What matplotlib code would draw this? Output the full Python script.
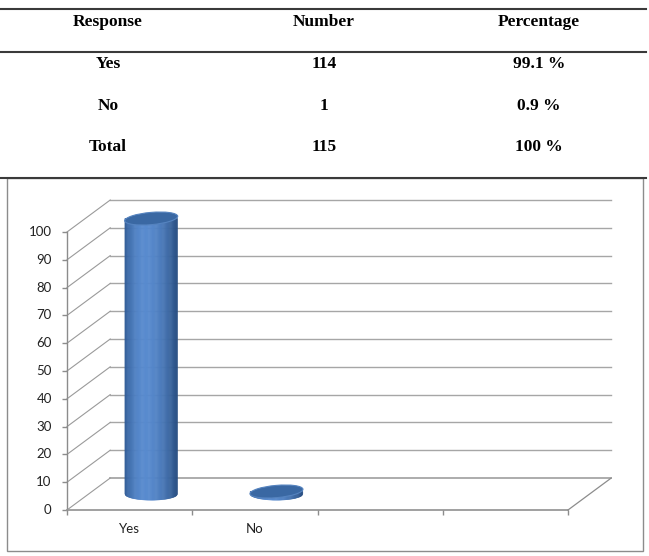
import numpy as np
import matplotlib
matplotlib.use("Agg")
import matplotlib.pyplot as plt
from matplotlib.lines import Line2D
from matplotlib.patches import Ellipse, Rectangle
from matplotlib.transforms import Affine2D, ScaledTranslation

# ---------------- data ----------------
table_header = ["Response", "Number", "Percentage"]
table_responses = ["Yes", "No", "Total"]
table_numbers = [114, 1, 115]
table_percent = ["99.1 %", "0.9 %", "100 %"]

categories = ["Yes", "No", "", ""]
values = [99.1, 0.9]
yticks = [0, 10, 20, 30, 40, 50, 60, 70, 80, 90, 100]

# ---------------- figure ----------------
W_PX, H_PX = 649, 556
fig = plt.figure(figsize=(W_PX / 100, H_PX / 100), dpi=100)
fig.patch.set_facecolor("white")


def fx(px):
    return px / W_PX


def fy(py):
    return 1 - py / H_PX


# ---- table ----
serif = "Liberation Serif"
for ypx in (9, 52, 177.5):
    fig.add_artist(Line2D([fx(0), fx(646)], [fy(ypx), fy(ypx)],
                          transform=fig.transFigure, color="#3a3a3a", lw=1.5))
col_x = [108, 324, 539]
for cx, h in zip(col_x, table_header):
    fig.text(fx(cx), fy(22), h, ha="center", va="center", family=serif,
             weight="bold", fontsize=12.5, color="black")
row_y = [64, 106, 147]
for ry, r, n, p in zip(row_y, table_responses, table_numbers, table_percent):
    for cx, t in zip(col_x, [r, str(n), p]):
        fig.text(fx(cx), fy(ry), t, ha="center", va="center", family=serif,
                 weight="bold", fontsize=12.5, color="black")

# chart frame
fig.add_artist(Rectangle((fx(7), fy(551)), fx(643) - fx(7), fy(178) - fy(551),
                         transform=fig.transFigure, fill=False,
                         edgecolor="#8c8c8c", lw=1.0))

# ---- chart axes (front plane) ----
ax = fig.add_axes([fx(67), fy(510), fx(568) - fx(67), fy(232) - fy(510)])
ax.set_xlim(-0.5, len(categories) - 0.5)
ax.set_ylim(0, 100)
ax.axis("off")

DX, DY = 0.345, 11.5          # depth offset (data units)
x0, x1 = -0.5, len(categories) - 0.5
grid_c = "#a6a6a6"

# back wall gridlines + left wall diagonals
for v in yticks:
    lw = 1.3 if v == 0 else 1.0
    ax.plot([x0 + DX, x1 + DX], [v + DY, v + DY], color=grid_c, lw=lw,
            clip_on=False, zorder=1)
    ax.plot([x0, x0 + DX], [v, v + DY], color="#9a9a9a", lw=0.8,
            clip_on=False, zorder=1)
    ax.plot([x0], [v], marker=0, markersize=3.6, color="#8c8c8c",
            mew=1.0, clip_on=False)
    ax.annotate(str(v), (x0, v), xytext=(-11, 0), textcoords="offset points",
                ha="right", va="center", fontsize=9.5, family="Lato",
                color="#222222", annotation_clip=False)

# front vertical axis
ax.plot([x0, x0], [0, 100], color="#8c8c8c", lw=1.0, clip_on=False, zorder=2)
# floor edges
ax.plot([x0, x1], [0, 0], color="#999999", lw=1.3, clip_on=False, zorder=2)
ax.plot([x1, x1 + DX], [0, DY], color="#8c8c8c", lw=0.9, clip_on=False, zorder=2)
for k in range(len(categories) + 1):
    ax.plot([x0 + k], [0], marker=3, markersize=3.6, color="#8c8c8c",
            mew=1.0, clip_on=False)
for i, c in enumerate(categories):
    if c:
        ax.annotate(c, (i, 0), xytext=(0, -14), textcoords="offset points",
                    ha="center", va="center", fontsize=9.5, family="Lato",
                    color="#222222", annotation_clip=False)

# ---- cylinders ----
CW = 0.42            # cylinder width (data x)
EB = 2.2             # ellipse half height (data y)
TILT = 5             # ellipse tilt (degrees)
dark_l = np.array([0.18, 0.35, 0.58])
dark_r = np.array([0.15, 0.30, 0.50])
light = np.array([0.34, 0.54, 0.81])


def shade(t):
    if t < 0.38:
        s = 1 - ((0.38 - t) / 0.38) ** 2
        return dark_l + (light - dark_l) * s
    s = 1 - ((t - 0.38) / 0.62) ** 2
    return dark_r + (light - dark_r) * s


# pixel size of the ellipse, derived from the axes scale
p0 = ax.transData.transform((0, 0))
p1 = ax.transData.transform((CW, 2 * EB))
ew, eh = p1[0] - p0[0], p1[1] - p0[1]

N = 60
a = CW / 2
for i, v in enumerate(values):
    cx = i + DX / 2
    base = DY / 2
    edges = np.linspace(-a, a, N + 1)
    for k in range(N):
        xl, xr = edges[k], edges[k + 1]
        ybl = base - EB * np.sqrt(max(0.0, 1 - (xl / a) ** 2))
        ybr = base - EB * np.sqrt(max(0.0, 1 - (xr / a) ** 2))
        col = shade((k + 0.5) / N)
        ax.fill([cx + xl, cx + xr, cx + xr, cx + xl],
                [ybl, ybr, base + v, base + v],
                color=col, lw=0.4, ec=col, clip_on=False, zorder=5)
    top_tr = Affine2D() + ScaledTranslation(cx, base + v, ax.transData)
    ax.add_patch(Ellipse((0, 0), ew * 1.01, eh, angle=TILT, transform=top_tr,
                         facecolor="#3a68a3", edgecolor="#5583bf", lw=0.8,
                         clip_on=False, zorder=6))

fig.savefig("out.png", dpi=100, facecolor="white")
